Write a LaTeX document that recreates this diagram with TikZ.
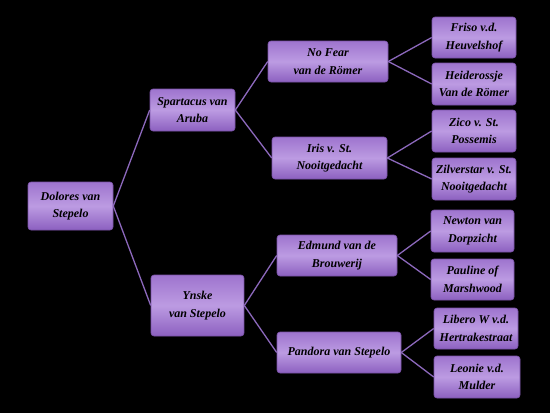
\documentclass[tikz,border=0pt]{standalone}
\usepackage{fontspec}
\setmainfont{Liberation Serif}
\definecolor{boxtop}{HTML}{9E74CE}
\definecolor{boxmid}{HTML}{BC9BE2}
\definecolor{boxbot}{HTML}{8C60C0}
\definecolor{linkc}{HTML}{8C68BC}
\definecolor{edgec}{HTML}{7A52A8}
\tikzset{
  pbox/.style={draw=edgec, line width=0.6pt, rounded corners=3pt,
    top color=boxtop, bottom color=boxbot, middle color=boxmid,
    align=center, inner sep=1pt, font=\fontsize{12}{17.5}\selectfont\itshape\bfseries,
    text=black, anchor=center},
  link/.style={draw=linkc, line width=1.3pt},
}
\begin{document}
\begin{tikzpicture}[x=1pt,y=-1pt]
\fill[black] (0,0) rectangle (550,413);
\useasboundingbox (0,0) rectangle (550,413);
% level 0
\node[pbox, minimum width=85pt, minimum height=48pt] (dol) at (70.5,206) {Dolores van\\Stepelo};
% level 1
\node[pbox, minimum width=85pt, minimum height=42pt] (spa) at (192.5,110) {Spartacus van\\Aruba};
\node[pbox, minimum width=93pt, minimum height=61pt] (yns) at (197.5,305.5) {Ynske\\van Stepelo};
% level 2
\node[pbox, minimum width=120pt, minimum height=41pt] (nof) at (328,61.5) {No Fear\\van de Römer};
\node[pbox, minimum width=115pt, minimum height=42pt] (iri) at (329.5,158) {Iris v. St.\\Nooitgedacht};
\node[pbox, minimum width=120pt, minimum height=41pt] (edm) at (337,255.5) {Edmund van de\\Brouwerij};
\node[pbox, minimum width=124pt, minimum height=41pt] (pan) at (339,352.5) {Pandora van Stepelo};
% level 3
\node[pbox, minimum width=84pt, minimum height=41pt] (fri) at (474,37.5) {Friso v.d.\\Heuvelshof};
\node[pbox, minimum width=84pt, minimum height=42pt] (hei) at (474,84) {Heiderossje\\Van de Römer};
\node[pbox, minimum width=84pt, minimum height=42pt] (zic) at (474,131) {Zico v. St.\\Possemis};
\node[pbox, minimum width=84pt, minimum height=42pt] (zil) at (474,179) {Zilverstar v. St.\\Nooitgedacht};
\node[pbox, minimum width=83pt, minimum height=42pt] (new) at (472.5,231) {Newton van\\Dorpzicht};
\node[pbox, minimum width=83pt, minimum height=41pt] (pau) at (472.5,279.5) {Pauline of\\Marshwood};
\node[pbox, minimum width=84pt, minimum height=41pt] (lib) at (476,328.5) {Libero W v.d.\\Hertrakestraat};
\node[pbox, minimum width=86pt, minimum height=42pt] (leo) at (477,377) {Leonie v.d.\\Mulder};
% links
\draw[link] (dol.east) -- (spa.west);
\draw[link] (dol.east) -- (yns.west);
\draw[link] (spa.east) -- (nof.west);
\draw[link] (spa.east) -- (iri.west);
\draw[link] (yns.east) -- (edm.west);
\draw[link] (yns.east) -- (pan.west);
\draw[link] (nof.east) -- (fri.west);
\draw[link] (nof.east) -- (hei.west);
\draw[link] (iri.east) -- (zic.west);
\draw[link] (iri.east) -- (zil.west);
\draw[link] (edm.east) -- (new.west);
\draw[link] (edm.east) -- (pau.west);
\draw[link] (pan.east) -- (lib.west);
\draw[link] (pan.east) -- (leo.west);
\end{tikzpicture}
\end{document}
